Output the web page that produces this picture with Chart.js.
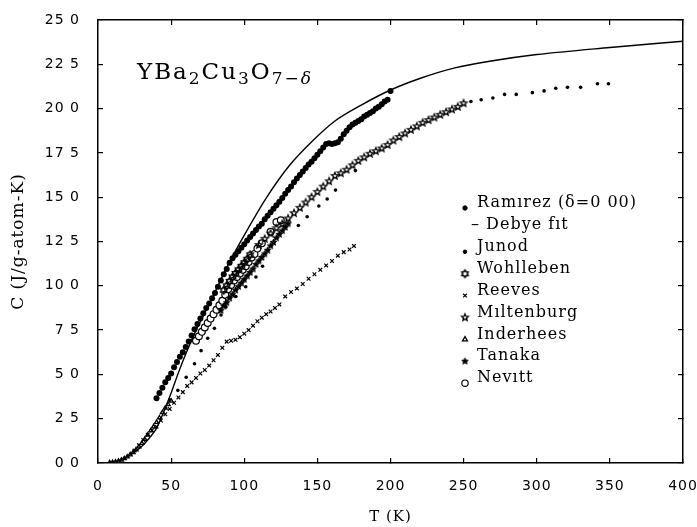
<!DOCTYPE html>
<html>
<head>
<meta charset="utf-8">
<script src="https://cdn.jsdelivr.net/npm/chart.js@4.4.1/dist/chart.umd.min.js"></script>
<style>
  html, body { margin: 0; padding: 0; background: #fff; }
  #wrap { width: 697px; height: 527px; }
</style>
</head>
<body>
<div id="wrap"><canvas id="heatChart" width="697" height="527"></canvas></div>
<script>
// ---- data: T in K, C in J/(g-atom K) ----
const xTicks = [0, 50, 100, 150, 200, 250, 300, 350, 400];
const yTicks = [0, 2.5, 5, 7.5, 10, 12.5, 15, 17.5, 20, 22.5, 25];

const debyeT = [0, 10, 15, 20, 25, 30, 35, 40, 45, 50, 55, 60, 66, 72, 78, 84, 90, 101, 115, 131, 147, 162, 180, 200, 220, 244, 270, 300, 350, 400];
const debyeC = [0, 0.04, 0.15, 0.35, 0.62, 0.95, 1.4, 1.95, 2.9, 3.95, 5.1, 6.15, 7.3, 8.3, 9.3, 10.35, 11.35, 13.0, 14.95, 16.8, 18.2, 19.3, 20.2, 21.05, 21.7, 22.3, 22.7, 23.05, 23.45, 23.8];

const ramirezT = [40, 42, 44, 46, 48, 50, 52, 54, 56, 58, 60, 62, 64, 66, 68, 70, 72, 74, 76, 78,
  80, 82, 84, 86, 88, 90, 92, 94, 96, 98, 100, 102, 104, 106, 108, 110, 112, 114, 116, 118,
  120, 122, 124, 126, 128, 130, 132, 134, 136, 138, 140, 142, 144, 146, 148, 150, 152, 154, 156, 158,
  160, 162, 164, 166, 168, 170, 172, 174, 176, 178, 180, 182, 184, 186, 188, 190, 192, 194, 196, 198, 200];
const ramirezC = [3.65, 3.95, 4.25, 4.55, 4.8, 5.05, 5.4, 5.7, 6.0, 6.25, 6.55, 6.85, 7.2, 7.55, 7.85, 8.15, 8.45, 8.75, 9.0, 9.3,
  9.6, 9.95, 10.3, 10.65, 10.95, 11.3, 11.55, 11.75, 11.95, 12.15, 12.35, 12.55, 12.75, 12.95, 13.15, 13.35, 13.5, 13.75, 13.95, 14.15,
  14.35, 14.55, 14.75, 14.95, 15.2, 15.4, 15.6, 15.85, 16.05, 16.25, 16.45, 16.65, 16.85, 17.0, 17.2, 17.4, 17.6, 17.8, 18.0, 18.05,
  18.0, 18.05, 18.1, 18.3, 18.55, 18.75, 18.95, 19.1, 19.2, 19.3, 19.4, 19.55, 19.65, 19.75, 19.85, 20.0, 20.1, 20.25, 20.4, 20.5, 21.0];

const junodT = [49, 54.6, 60.3, 66, 70.5, 75, 79.6, 84.1, 87.5, 94.3, 101, 108, 112.5, 137, 143, 151, 156.7, 162.4, 176,
  255, 262, 270, 278, 286, 297, 305, 313, 321, 330, 341.5, 349];
const junodC = [3.56, 4.1, 4.84, 5.6, 6.34, 7.04, 7.6, 8.35, 8.8, 9.4, 9.95, 10.5, 11.1, 13.4, 13.9, 14.5, 14.9, 15.4, 16.5,
  20.4, 20.5, 20.6, 20.8, 20.8, 20.9, 21.0, 21.15, 21.2, 21.2, 21.4, 21.4];

const wohllebenT = [86, 88, 90, 92, 94, 96, 98, 100, 102, 104];
const wohllebenC = [9.75, 10.0, 10.25, 10.5, 10.7, 10.9, 11.1, 11.3, 11.5, 11.75];

const reevesT = [25, 28, 31, 34, 37, 40, 43, 46, 49, 52, 55, 58, 61, 64, 67, 70, 73, 76, 79, 82, 85, 88, 91, 94,
  97, 100, 103, 106, 109, 112, 115, 118, 121, 124, 128, 132, 136, 140, 144, 148, 152, 156, 160, 164, 168, 172, 175];
const reevesC = [0.7, 1.0, 1.3, 1.6, 1.85, 2.05, 2.4, 2.75, 3.05, 3.4, 3.7, 4.0, 4.35, 4.55, 4.8, 5.05, 5.25, 5.5, 5.8, 6.1, 6.5, 6.85, 6.9, 6.95,
  7.1, 7.3, 7.5, 7.75, 8.0, 8.2, 8.4, 8.55, 8.75, 8.95, 9.4, 9.65, 9.85, 10.1, 10.4, 10.65, 10.9, 11.15, 11.4, 11.7, 11.9, 12.05, 12.25];

const miltenburgT = [110, 114, 118, 122, 126, 130, 134, 138, 142, 146, 150, 154, 158, 162, 166, 170, 174, 178,
  182, 186, 190, 194, 198, 202, 206, 210, 214, 218, 222, 226, 230, 234, 238, 242, 246, 250];
const miltenburgC = [12.3, 12.65, 12.95, 13.25, 13.5, 13.8, 14.1, 14.4, 14.7, 15.0, 15.3, 15.6, 15.9, 16.2, 16.35, 16.55, 16.8, 17.05,
  17.25, 17.45, 17.6, 17.75, 17.95, 18.2, 18.4, 18.6, 18.8, 19.0, 19.2, 19.35, 19.5, 19.65, 19.8, 19.95, 20.1, 20.3];

const inderheesT = [8, 10, 12, 14, 16, 18, 20, 22, 24, 26, 28, 30, 32, 34, 36, 38, 40, 42, 44, 46, 48, 50];
const inderheesC = [0.02, 0.04, 0.07, 0.11, 0.17, 0.25, 0.35, 0.47, 0.6, 0.75, 0.92, 1.12, 1.35, 1.58, 1.82, 2.05, 2.3, 2.55, 2.85, 3.1, 3.3, 3.5];

const tanakaT = [84, 86, 88, 90, 92, 94, 96, 98, 100, 102, 104, 106, 108, 110, 112, 114, 116, 118, 120, 122, 124, 126, 128, 130];
const tanakaC = [8.6, 8.85, 9.05, 9.3, 9.5, 9.75, 9.95, 10.15, 10.35, 10.55, 10.75, 10.95, 11.2, 11.4, 11.6, 11.8, 12.0, 12.25, 12.45, 12.7, 12.9, 13.1, 13.3, 13.5];

const nevittT = [67, 69, 71, 73, 75, 77, 79, 81, 83, 85, 87, 89, 91, 93, 95, 97, 99, 101, 103, 105, 107, 109, 112, 118, 122, 125];
const nevittC = [6.9, 7.15, 7.4, 7.65, 7.9, 8.15, 8.4, 8.65, 8.9, 9.15, 9.5, 9.8, 10.05, 10.3, 10.5, 10.7, 10.9, 11.1, 11.35, 11.6, 11.8, 12.1, 12.4, 13.05, 13.6, 13.7];

const legendLabels = ['Ram\u0131rez (\u03b4=0 00)', '\u2013 Debye f\u0131t', 'Junod', 'Wohlleben', 'Reeves',
  'M\u0131ltenburg', 'Inderhees', 'Tanaka', 'Nev\u0131tt'];

// small marker bitmaps for the star-like symbols
function makeStar(points, outer, inner, filled, lw) {
  const s = Math.ceil(outer * 2 + lw * 2 + 2);
  const c = document.createElement('canvas');
  c.width = s; c.height = s;
  const g = c.getContext('2d');
  g.beginPath();
  for (let i = 0; i < points * 2; i++) {
    const r = i % 2 === 0 ? outer : inner;
    const a = -Math.PI / 2 + i * Math.PI / points;
    const px = s / 2 + r * Math.cos(a), py = s / 2 + r * Math.sin(a);
    if (i === 0) g.moveTo(px, py); else g.lineTo(px, py);
  }
  g.closePath();
  g.lineWidth = lw;
  g.strokeStyle = '#000';
  g.fillStyle = '#000';
  if (filled) g.fill();
  g.stroke();
  return c;
}
const starOpen = makeStar(5, 3.6, 1.6, false, 1.3);
const starFilled = makeStar(5, 3.4, 1.5, true, 1);
const flower = makeStar(6, 3.6, 2.4, false, 1.6);

function pts(xs, ys) { return xs.map((x, i) => ({ x: x, y: ys[i] })); }

const series = [
  { label: legendLabels[0], data: pts(ramirezT, ramirezC), pointStyle: 'circle', pointRadius: 3, backgroundColor: '#000', borderColor: '#000', borderWidth: 0, legendRadius: 2.2 },
  { label: legendLabels[1], data: pts(debyeT, debyeC), showLine: true, pointRadius: 0, borderColor: '#000', borderWidth: 1.4, cubicInterpolationMode: 'monotone', legendStyle: 'dash' },
  { label: legendLabels[2], data: pts(junodT, junodC), pointStyle: 'circle', pointRadius: 1.8, backgroundColor: '#000', borderColor: '#000', borderWidth: 0, legendRadius: 1.8 },
  { label: legendLabels[3], data: pts(wohllebenT, wohllebenC), pointStyle: flower, backgroundColor: '#000', borderColor: '#000' },
  { label: legendLabels[4], data: pts(reevesT, reevesC), pointStyle: 'crossRot', pointRadius: 2.6, borderColor: '#000', borderWidth: 1.2, legendRadius: 2.6 },
  { label: legendLabels[5], data: pts(miltenburgT, miltenburgC), pointStyle: starOpen, backgroundColor: '#000', borderColor: '#000' },
  { label: legendLabels[6], data: pts(inderheesT, inderheesC), pointStyle: 'triangle', pointRadius: 2.3, backgroundColor: '#fff', borderColor: '#000', borderWidth: 1.3, legendRadius: 2.8 },
  { label: legendLabels[7], data: pts(tanakaT, tanakaC), pointStyle: starFilled, backgroundColor: '#000', borderColor: '#000' },
  { label: legendLabels[8], data: pts(nevittT, nevittC), pointStyle: 'circle', pointRadius: 3.4, backgroundColor: '#fff', borderColor: '#000', borderWidth: 1.2, legendRadius: 3.2 }
];

// formula label and in-plot legend (frame and ticks come from the axes)
const decorations = {
  id: 'decorations',
  beforeDraw(chart) {
    // the printed lettering is widely spaced
    chart.ctx.letterSpacing = '1px';
  },
  afterDraw(chart) {
    const ctx = chart.ctx;
    const a = chart.chartArea;
    ctx.save();
    ctx.fillStyle = '#000';

    // YBa2Cu3O7-δ
    ctx.textBaseline = 'alphabetic';
    ctx.textAlign = 'left';
    ctx.letterSpacing = '2px';
    const parts = [
      ['YBa', '23px "DejaVu Serif"', 0],
      ['2', '17px "DejaVu Serif"', 5],
      ['Cu', '23px "DejaVu Serif"', 0],
      ['3', '17px "DejaVu Serif"', 5],
      ['O', '23px "DejaVu Serif"', 0],
      ['7\u2212', '17px "DejaVu Serif"', 5],
      ['\u03b4', 'italic 17px "DejaVu Serif"', 5]
    ];
    let tx = a.left + 39;
    const ty = a.top + 59;
    parts.forEach(p => {
      ctx.font = p[1];
      ctx.fillText(p[0], tx, ty + p[2]);
      tx += ctx.measureText(p[0]).width;
    });
    ctx.letterSpacing = '1px';

    // legend
    const lx = a.left + 367;
    let ly = a.top + 183;
    ctx.font = '16px "DejaVu Serif"';
    ctx.textBaseline = 'middle';
    chart.data.datasets.forEach(ds => {
      ctx.fillStyle = '#000';
      if (ds.legendStyle === 'dash') {
        ctx.fillText(ds.label, lx + 6, ly);
      } else {
        ctx.fillStyle = ds.backgroundColor || '#000';
        ctx.strokeStyle = '#000';
        ctx.lineWidth = ds.borderWidth === undefined ? 1 : ds.borderWidth;
        Chart.helpers.drawPoint(ctx, {
          pointStyle: ds.pointStyle,
          radius: ds.legendRadius || 3,
          borderWidth: ctx.lineWidth
        }, lx, ly + 5);
        ctx.fillStyle = '#000';
        ctx.fillText(ds.label, lx + 12, ly);
      }
      ly += 21.9;
    });
    ctx.restore();
  }
};

// inward tick marks: negative tick length, no lines across the plot
const frameGrid = { display: true, drawOnChartArea: false, drawTicks: true, tickLength: -5, color: '#000', lineWidth: 1.2 };
const frameBorder = { display: true, color: '#000', width: 1.5 };

const ctx = document.getElementById('heatChart').getContext('2d');
new Chart(ctx, {
  type: 'scatter',
  data: { datasets: series },
  options: {
    responsive: false,
    animation: false,
    devicePixelRatio: 1,
    layout: { padding: { top: 20, right: 14, left: 0, bottom: 0 } },
    plugins: { legend: { display: false }, tooltip: { enabled: false } },
    scales: {
      x: {
        type: 'linear', min: 0, max: 400,
        afterFit: s => { s.height = 64; s.paddingLeft = 0; s.paddingRight = 0; },
        afterBuildTicks: s => { s.ticks = xTicks.map(v => ({ value: v })); },
        grid: frameGrid,
        border: frameBorder,
        ticks: { color: '#000', padding: 20, font: { family: 'DejaVu Sans', size: 14 } },
        title: { display: true, text: 'T (K)', color: '#000', padding: { top: 0, bottom: 1 }, font: { family: 'DejaVu Serif', size: 15 } }
      },
      x2: {
        type: 'linear', position: 'top', min: 0, max: 400,
        afterFit: s => { s.height = 0; s.paddingLeft = 0; s.paddingRight = 0; },
        afterBuildTicks: s => { s.ticks = xTicks.map(v => ({ value: v })); },
        grid: frameGrid,
        border: frameBorder,
        ticks: { display: false }
      },
      y: {
        type: 'linear', min: 0, max: 25,
        afterFit: s => { s.width = 98; s.paddingTop = 0; s.paddingBottom = 0; },
        afterBuildTicks: s => { s.ticks = yTicks.map(v => ({ value: v })); },
        grid: frameGrid,
        border: frameBorder,
        ticks: {
          color: '#000', padding: 23, font: { family: 'DejaVu Sans', size: 14 },
          callback: v => v.toFixed(1).replace('.', ' ')
        },
        title: { display: true, text: 'C (J/g-atom-K)', color: '#000', padding: { top: 8, bottom: 0 }, font: { family: 'DejaVu Serif', size: 17 } }
      },
      y2: {
        type: 'linear', position: 'right', min: 0, max: 25,
        afterFit: s => { s.width = 0; s.paddingTop = 0; s.paddingBottom = 0; },
        afterBuildTicks: s => { s.ticks = yTicks.map(v => ({ value: v })); },
        grid: frameGrid,
        border: frameBorder,
        ticks: { display: false }
      }
    }
  },
  plugins: [decorations]
});
</script>
</body>
</html>
